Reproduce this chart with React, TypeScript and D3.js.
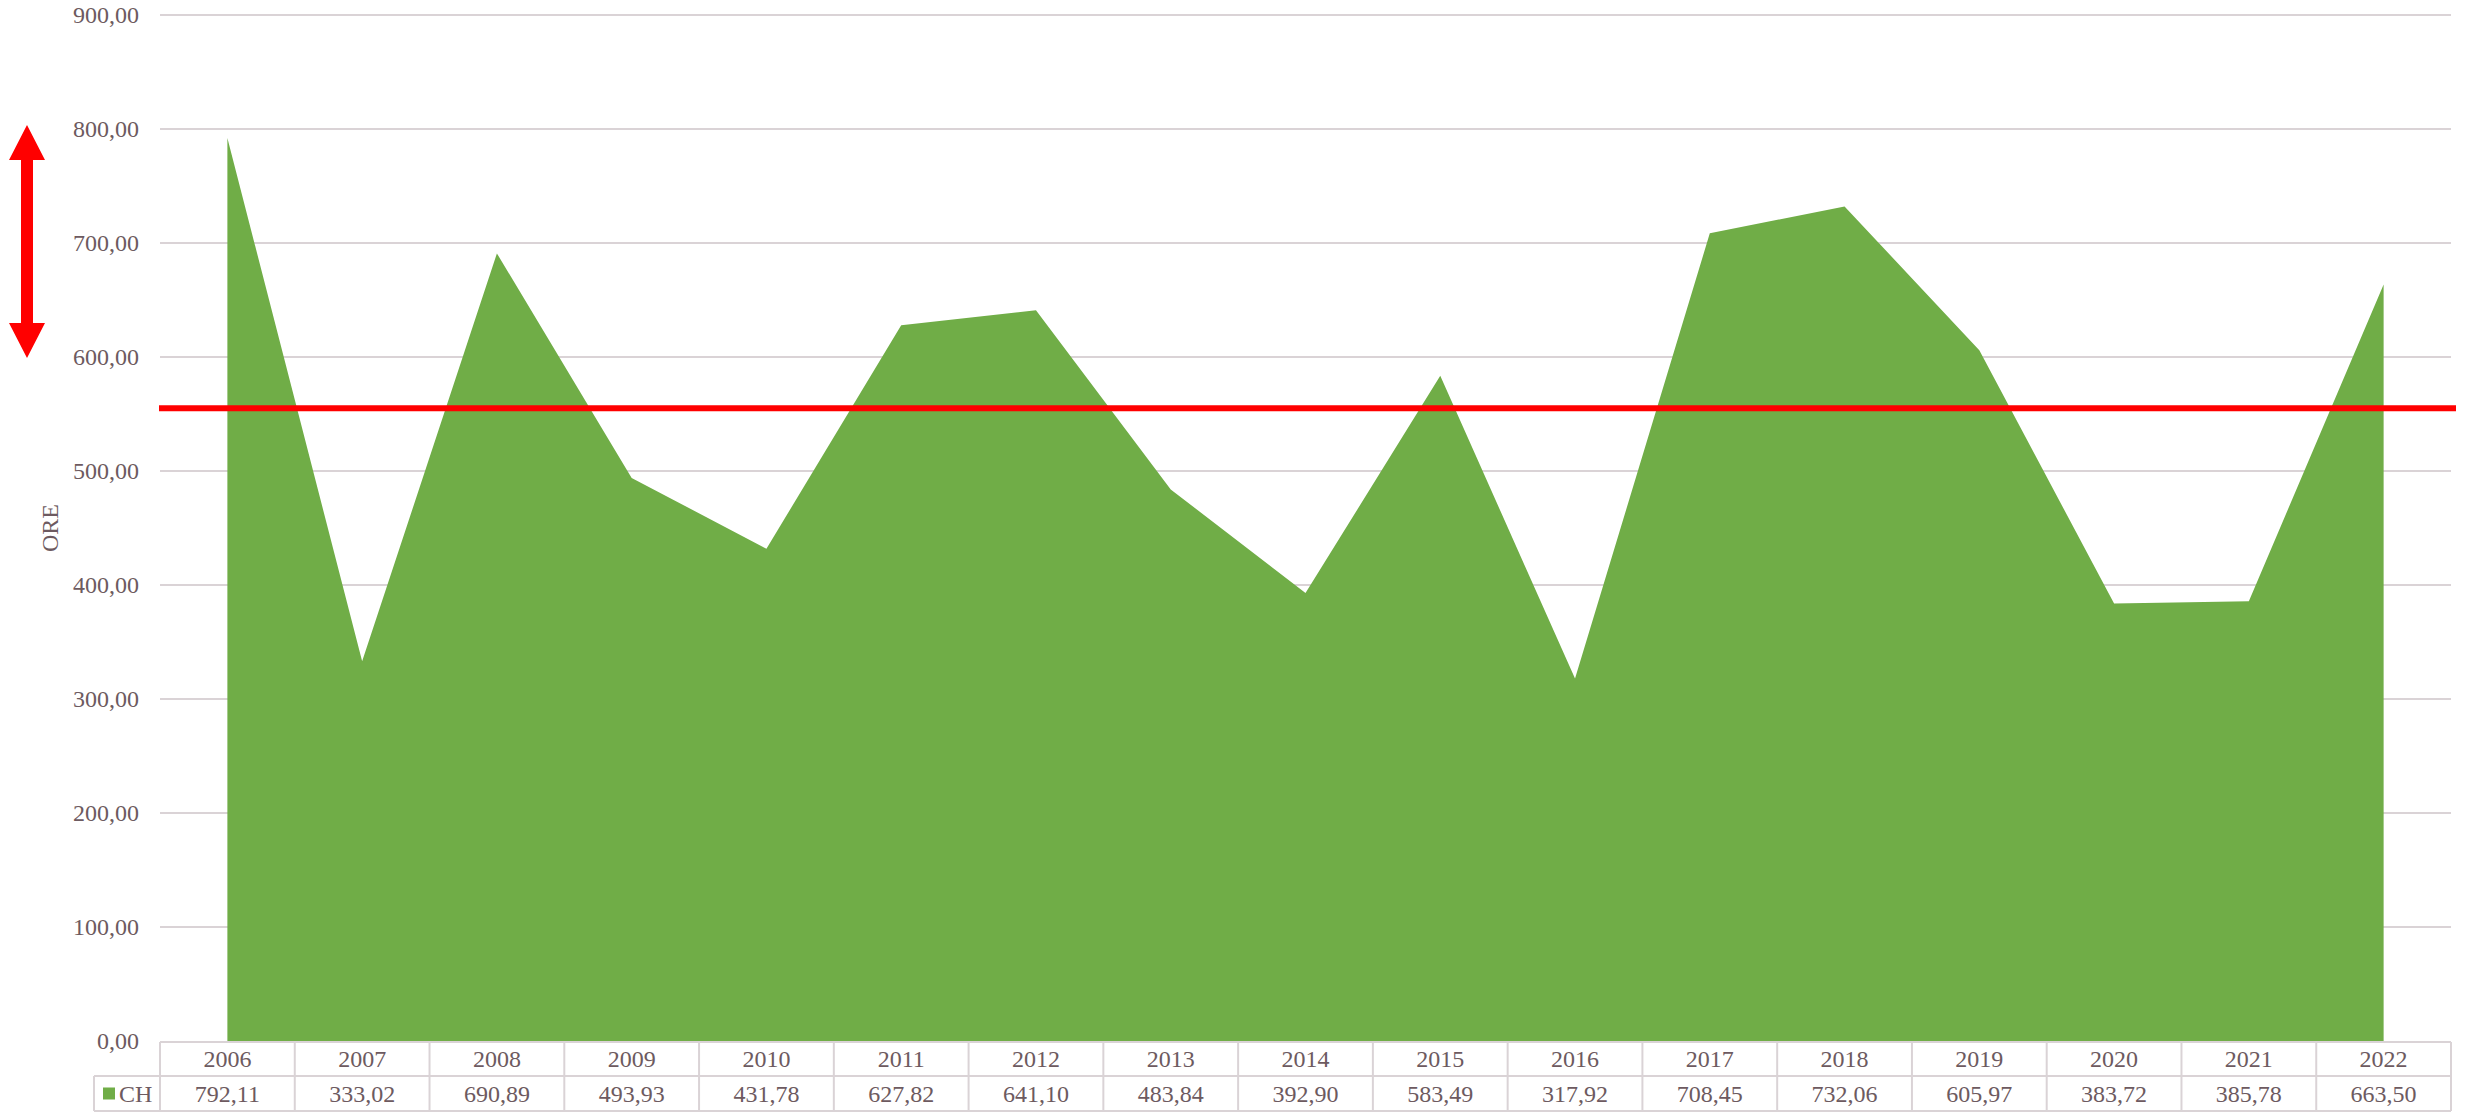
import React, { useRef, useEffect } from 'react';
import * as d3 from 'd3';

const years = ['2006', '2007', '2008', '2009', '2010', '2011', '2012', '2013', '2014', '2015', '2016', '2017', '2018', '2019', '2020', '2021', '2022'];
const chValues = [792.11, 333.02, 690.89, 493.93, 431.78, 627.82, 641.1, 483.84, 392.9, 583.49, 317.92, 708.45, 732.06, 605.97, 383.72, 385.78, 663.5];
const yTicks = [0, 100, 200, 300, 400, 500, 600, 700, 800, 900];
const seriesName = 'CH';
const axisTitle = 'ORE';
const averageLine = 555;

const fmt = (v: number) => v.toFixed(2).replace('.', ',');

const App: React.FC = () => {
    const svgRef = useRef<SVGSVGElement | null>(null);

    useEffect(() => {
        if (!svgRef.current) return;
        const svg = d3.select(svgRef.current);
        svg.selectAll('*').remove();

        const width = 2465;
        const height = 1112;
        const left = 160, right = 2451, top = 15, bottom = 1041;
        const textColor = '#6d5a60';
        const gridColor = '#dad3d6';
        const font = '"Liberation Serif", "Times New Roman", serif';
        const fs = 24;

        svg.attr('width', width).attr('height', height);

        const x = d3.scaleBand<string>().domain(years).range([left, right]);
        const y = d3.scaleLinear().domain([0, 900]).range([bottom, top]);

        // grid lines
        svg.append('g')
            .selectAll('line')
            .data(yTicks.filter(t => t > 0))
            .enter().append('line')
            .attr('x1', left).attr('x2', right)
            .attr('y1', d => y(d)).attr('y2', d => y(d))
            .attr('stroke', gridColor).attr('stroke-width', 2);

        // area
        const area = d3.area<number>()
            .x((d, i) => (x(years[i]) as number) + x.bandwidth() / 2)
            .y0(y(0))
            .y1(d => y(d));
        svg.append('path')
            .datum(chValues)
            .attr('d', area as any)
            .attr('fill', '#70ad47');

        // y labels
        svg.append('g')
            .selectAll('text')
            .data(yTicks)
            .enter().append('text')
            .attr('x', 139)
            .attr('y', d => y(d))
            .attr('dy', '0.35em')
            .attr('text-anchor', 'end')
            .attr('font-family', font)
            .attr('font-size', fs)
            .attr('fill', textColor)
            .text(d => fmt(d));

        // axis title
        svg.append('text')
            .attr('transform', `translate(50,${(top + bottom) / 2}) rotate(-90)`)
            .attr('text-anchor', 'middle')
            .attr('dy', '0.35em')
            .attr('font-family', font)
            .attr('font-size', fs)
            .attr('fill', textColor)
            .text(axisTitle);

        // data table
        const rowTop = 1042, rowMid = 1076, rowBottom = 1111, legendLeft = 94;
        const table = svg.append('g');
        const lineAttr = (sel: any) => sel.attr('stroke', gridColor).attr('stroke-width', 2);
        lineAttr(table.append('line').attr('x1', left).attr('x2', right).attr('y1', rowTop).attr('y2', rowTop));
        lineAttr(table.append('line').attr('x1', legendLeft).attr('x2', right).attr('y1', rowMid).attr('y2', rowMid));
        lineAttr(table.append('line').attr('x1', legendLeft).attr('x2', right).attr('y1', rowBottom).attr('y2', rowBottom));
        lineAttr(table.append('line').attr('x1', legendLeft).attr('x2', legendLeft).attr('y1', rowMid).attr('y2', rowBottom));
        table.selectAll('.vline')
            .data(years)
            .enter().append('line')
            .attr('class', 'vline')
            .attr('x1', d => x(d) as number).attr('x2', d => x(d) as number)
            .attr('y1', rowTop).attr('y2', rowBottom)
            .call(lineAttr);
        lineAttr(table.append('line').attr('x1', right).attr('x2', right).attr('y1', rowTop).attr('y2', rowBottom));

        table.selectAll('.year')
            .data(years)
            .enter().append('text')
            .attr('class', 'year')
            .attr('x', d => (x(d) as number) + x.bandwidth() / 2)
            .attr('y', (rowTop + rowMid) / 2)
            .attr('dy', '0.35em')
            .attr('text-anchor', 'middle')
            .attr('font-family', font)
            .attr('font-size', fs)
            .attr('fill', textColor)
            .text(d => d);

        table.selectAll('.val')
            .data(chValues)
            .enter().append('text')
            .attr('class', 'val')
            .attr('x', (d, i) => (x(years[i]) as number) + x.bandwidth() / 2)
            .attr('y', (rowMid + rowBottom) / 2)
            .attr('dy', '0.35em')
            .attr('text-anchor', 'middle')
            .attr('font-family', font)
            .attr('font-size', fs)
            .attr('fill', textColor)
            .text(d => fmt(d));

        table.append('rect')
            .attr('x', 103).attr('y', (rowMid + rowBottom) / 2 - 6)
            .attr('width', 12).attr('height', 12)
            .attr('fill', '#70ad47');
        table.append('text')
            .attr('x', 119)
            .attr('y', (rowMid + rowBottom) / 2)
            .attr('dy', '0.35em')
            .attr('font-family', font)
            .attr('font-size', fs)
            .attr('fill', textColor)
            .text(seriesName);

        // red average line
        svg.append('line')
            .attr('x1', 159).attr('x2', 2456)
            .attr('y1', y(averageLine)).attr('y2', y(averageLine))
            .attr('stroke', '#ff0000').attr('stroke-width', 6);

        // double arrow
        const ax = 27, aTop = 125, aBot = 358, headW = 18, headL = 35, shaft = 6;
        svg.append('path')
            .attr('d', `M${ax},${aTop} L${ax + headW},${aTop + headL} L${ax + shaft},${aTop + headL} L${ax + shaft},${aBot - headL} L${ax + headW},${aBot - headL} L${ax},${aBot} L${ax - headW},${aBot - headL} L${ax - shaft},${aBot - headL} L${ax - shaft},${aTop + headL} L${ax - headW},${aTop + headL} Z`)
            .attr('fill', '#ff0000');
    }, []);

    return <svg ref={svgRef} width="2465" height="1112" style={{ position: 'absolute', left: 0, top: 0 }}></svg>;
};

export default App;
